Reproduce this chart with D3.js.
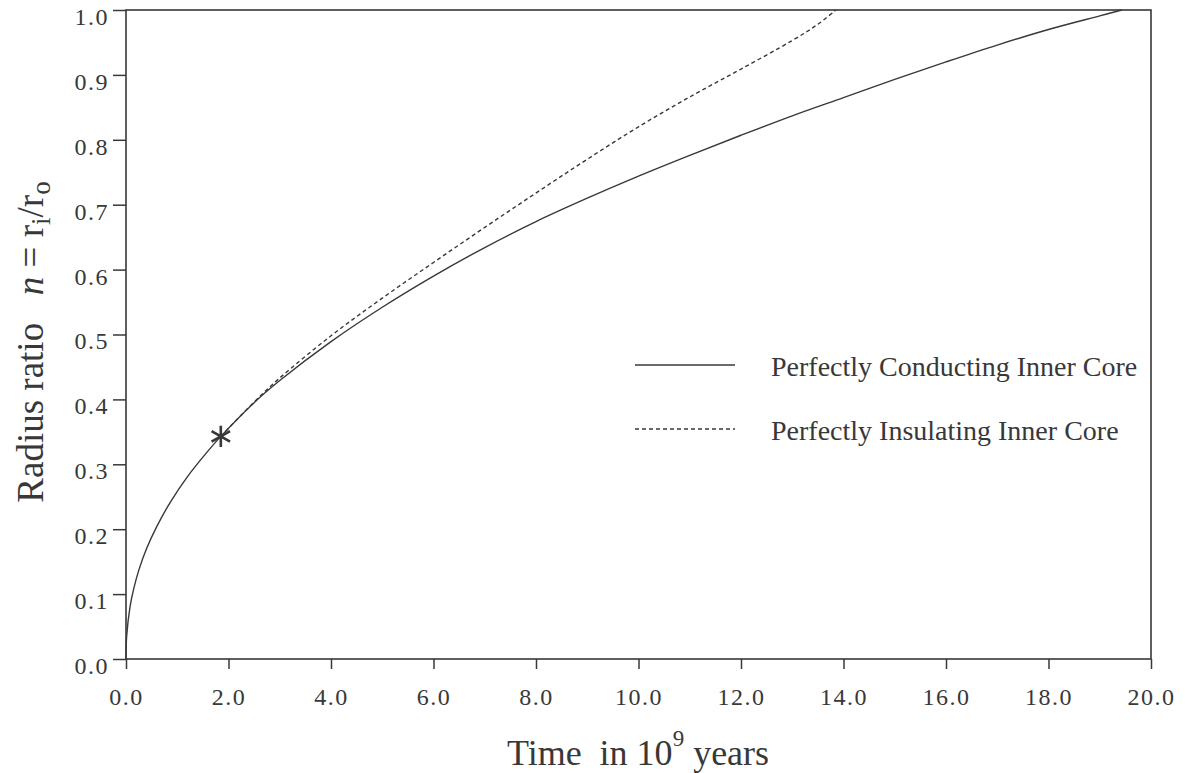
<!DOCTYPE html>
<html>
<head>
<meta charset="utf-8">
<script src="https://cdn.jsdelivr.net/npm/d3@7"></script>
<style>
  body { margin: 0; background: #fff; }
  text { font-family: "Liberation Serif", "Times New Roman", serif; fill: #383838; }
</style>
</head>
<body>
<svg width="1185" height="773"></svg>
<script>
// time in 10^9 years vs radius ratio n
var timeConducting = [0, 0.013, 0.08, 0.15, 0.25, 0.4, 0.6, 0.86, 1.2, 1.5, 1.85, 2.5, 3.0, 4.0, 5.0, 6.0, 7.0, 8.0, 9.0, 10.0, 11.0, 12.0, 13.0, 14.0, 15.0, 16.0, 17.0, 18.0, 19.0, 19.43]
var nConducting    = [0, 0.035, 0.081, 0.108, 0.137, 0.170, 0.204, 0.241, 0.281, 0.311, 0.343, 0.395, 0.429, 0.489, 0.542, 0.590, 0.634, 0.674, 0.710, 0.744, 0.776, 0.807, 0.837, 0.865, 0.893, 0.920, 0.946, 0.970, 0.991, 1.0]

var timeInsulating = [1.85, 2.5, 3.0, 4.0, 5.0, 6.0, 7.0, 8.0, 9.0, 10.0, 11.0, 12.0, 13.0, 13.5, 13.85]
var nInsulating    = [0.343, 0.396, 0.433, 0.498, 0.556, 0.611, 0.665, 0.718, 0.770, 0.820, 0.866, 0.909, 0.953, 0.978, 1.0]

var markTime = [1.85]
var markN = [0.343]

var xTicks = [0, 2, 4, 6, 8, 10, 12, 14, 16, 18, 20]
var yTicks = [0, 0.1, 0.2, 0.3, 0.4, 0.5, 0.6, 0.7, 0.8, 0.9, 1.0]

var legendLabels = ["Perfectly Conducting Inner Core", "Perfectly Insulating Inner Core"]

var ink = "#383838"
var svg = d3.select("svg")
var plotLeft = 126, plotRight = 1151, plotTop = 10, plotBottom = 659

var x = d3.scaleLinear().domain([0, 20]).range([plotLeft, plotRight])
var y = d3.scaleLinear().domain([0, 1]).range([plotBottom, plotTop])

// axes
var gx = svg.append("g")
  .attr("transform", "translate(0," + plotBottom + ")")
  .call(d3.axisBottom(x).tickValues(xTicks).tickSize(10).tickPadding(19).tickFormat(d3.format(".1f")))
var gy = svg.append("g")
  .attr("transform", "translate(" + plotLeft + ",0)")
  .call(d3.axisLeft(y).tickValues(yTicks).tickSize(13).tickPadding(4).tickFormat(d3.format(".1f")))

;[gx, gy].forEach(function(g) {
  g.attr("font-family", null).attr("font-size", null)
  g.select(".domain").remove()
  g.selectAll("line").attr("stroke", ink).attr("stroke-width", 1.5)
  g.selectAll("text").style("font-size", "24px").style("letter-spacing", "1.5px").style("fill", ink)
})
// y labels sit a little below their ticks in the original
gy.selectAll("text").attr("dy", "0.6em")

// frame
svg.append("rect")
  .attr("x", plotLeft).attr("y", plotTop)
  .attr("width", plotRight - plotLeft).attr("height", plotBottom - plotTop)
  .attr("fill", "none").attr("stroke", ink).attr("stroke-width", 1.6)

var line = d3.line()
  .x(function(d) { return x(d[0]) })
  .y(function(d) { return y(d[1]) })
  .curve(d3.curveCatmullRom.alpha(0.5))

svg.append("path")
  .datum(d3.zip(timeConducting, nConducting))
  .attr("d", line)
  .attr("fill", "none").attr("stroke", ink).attr("stroke-width", 1.4)

svg.append("path")
  .datum(d3.zip(timeInsulating, nInsulating))
  .attr("d", line)
  .attr("fill", "none").attr("stroke", ink).attr("stroke-width", 1.4)
  .attr("stroke-dasharray", "4,3")

// asterisk marker
svg.selectAll(".mark")
  .data(d3.zip(markTime, markN))
  .enter().append("path")
  .attr("class", "mark")
  .attr("transform", function(d) { return "translate(" + x(d[0]) + "," + y(d[1]) + ")" })
  .attr("d", d3.symbol().type(d3.symbolAsterisk).size(320))
  .attr("fill", "none").attr("stroke", ink).attr("stroke-width", 2.6)

// legend
var legend = svg.selectAll(".legend")
  .data(legendLabels)
  .enter().append("g")
  .attr("class", "legend")
  .attr("transform", function(d, i) { return "translate(0," + (365 + i * 64) + ")" })

legend.append("line")
  .attr("x1", 635).attr("x2", 735)
  .attr("stroke", ink).attr("stroke-width", 1.4)
  .attr("stroke-dasharray", function(d, i) { return i ? "4,3" : null })

legend.append("text")
  .attr("x", 771).attr("y", 11)
  .attr("font-size", "28px")
  .text(function(d) { return d })

// x title
var xt = svg.append("text")
  .attr("x", 638).attr("y", 765)
  .attr("text-anchor", "middle")
  .attr("font-size", "36px")
xt.append("tspan").text("Time\u00a0\u00a0in 10")
xt.append("tspan").attr("dy", -19).attr("font-size", "23px").text("9")
xt.append("tspan").attr("dy", 19).text("\u00a0years")

// y title
var yt = svg.append("text")
  .attr("transform", "translate(43,342) rotate(-90)")
  .attr("text-anchor", "middle")
  .attr("font-size", "37px")
yt.append("tspan").text("Radius ratio\u00a0\u00a0\u00a0")
yt.append("tspan").attr("font-style", "italic").text("n")
yt.append("tspan").text(" = r")
yt.append("tspan").attr("dy", 7).attr("font-size", "27px").text("i")
yt.append("tspan").attr("dy", -7).text("/r")
yt.append("tspan").attr("dy", 7).attr("font-size", "27px").text("o")
</script>
</body>
</html>
